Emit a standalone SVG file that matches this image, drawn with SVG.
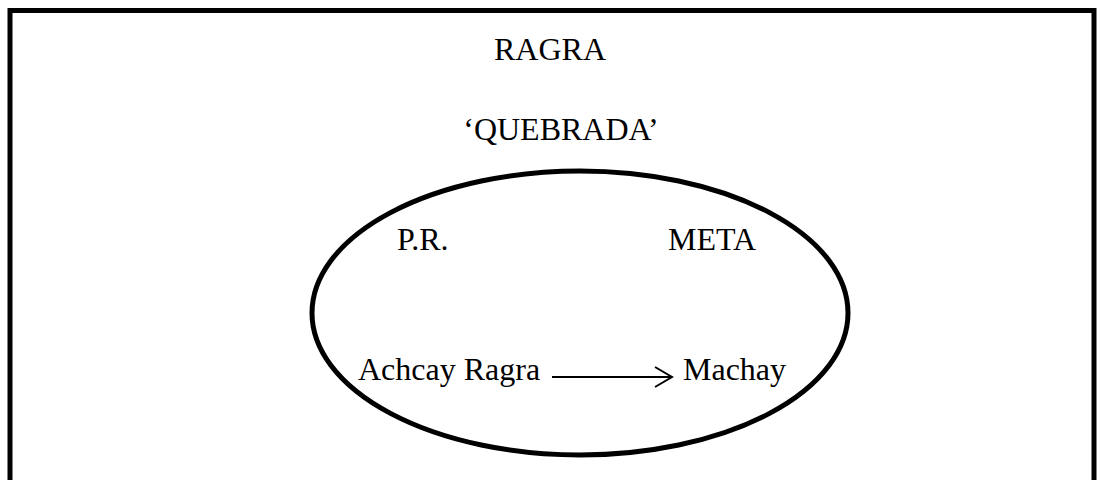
<svg xmlns="http://www.w3.org/2000/svg" width="1100" height="480" viewBox="0 0 1100 480">
<style>
text{font-family:"Liberation Serif","Times New Roman",serif;font-size:32px;fill:#000}
.frame{fill:none;stroke:#000;stroke-width:5}
.conn{fill:none;stroke:#000;stroke-width:2}
</style>
<defs>
<marker id="open" markerWidth="20" markerHeight="24" refX="18" refY="11" orient="auto" markerUnits="userSpaceOnUse">
<path d="M1,1 L18,11 L1,21" fill="none" stroke="#000" stroke-width="2"/>
</marker>
</defs>
<rect class="frame" x="10" y="10.5" width="1084" height="490"/>
<g id="ragra"><text x="550" y="60" text-anchor="middle">RAGRA</text></g>
<g id="quebrada">
<text x="561" y="140" text-anchor="middle">‘QUEBRADA’</text>
<ellipse class="frame" cx="580" cy="313" rx="268" ry="142"/>
</g>
<g id="pr"><text x="397" y="250">P.R.</text></g>
<g id="meta"><text x="668" y="250">META</text></g>
<g id="achcay"><text x="358" y="380">Achcay Ragra</text></g>
<g id="machay"><text x="683" y="380">Machay</text></g>
<g id="connectors">
<line class="conn" x1="552" y1="377" x2="672" y2="377" marker-end="url(#open)"/>
</g>
</svg>
